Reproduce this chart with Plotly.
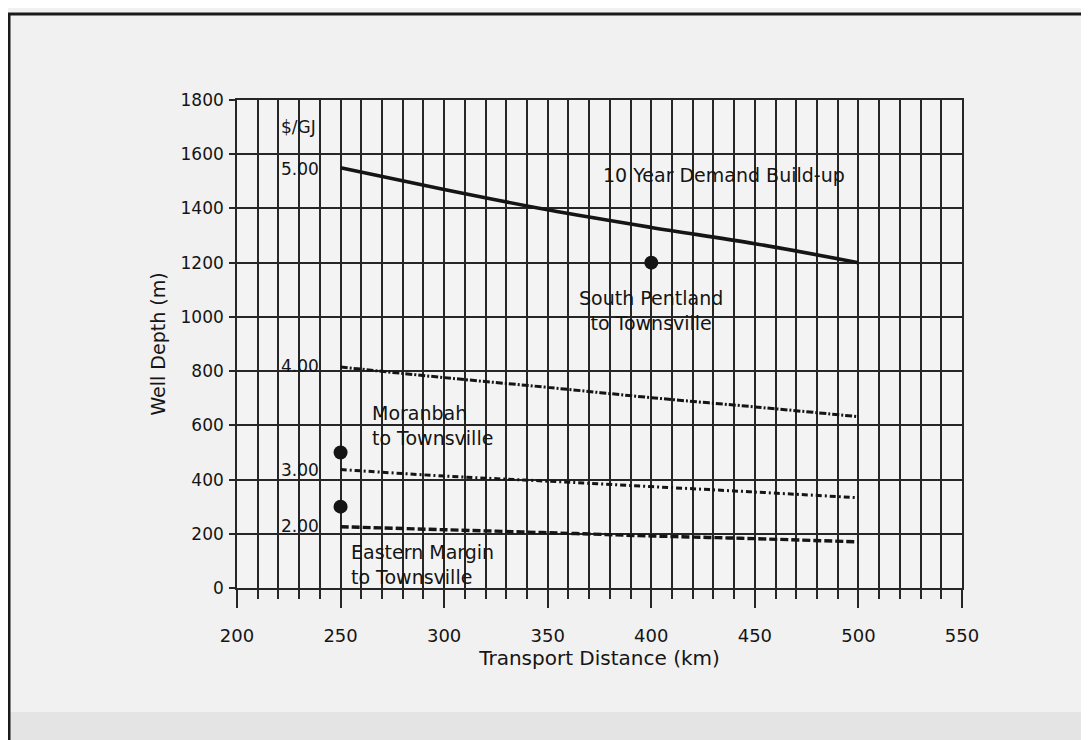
import plotly.graph_objects as go

# ---- data ----
distance_km = [250, 300, 350, 400, 450, 500]
depth_500 = [1550, 1470, 1395, 1330, 1270, 1200]   # $5.00/GJ
depth_400 = [815, 776, 740, 702, 668, 632]          # $4.00/GJ
depth_300 = [437, 413, 394, 374, 354, 333]          # $3.00/GJ
depth_200 = [226, 215, 204, 192, 182, 170]          # $2.00/GJ

site_x = [400, 250, 250]
site_y = [1200, 500, 300]

x_ticks = [200, 250, 300, 350, 400, 450, 500, 550]
y_ticks = [0, 200, 400, 600, 800, 1000, 1200, 1400, 1600, 1800]

FONT = "DejaVu Sans, Liberation Sans, Arial, sans-serif"
INK = "#151515"
GRID = "#262626"

# page offset (body margin of the html page)
OFF = 8
L, T, PW, PH = 237 - OFF, 100 - OFF, 725, 488
W, H = 1089 - OFF, 740 - OFF

fig = go.Figure()

fig.add_trace(go.Scatter(x=distance_km, y=depth_500, mode="lines",
                         line=dict(color=INK, width=3.6), line_shape="spline",
                         showlegend=False))
fig.add_trace(go.Scatter(x=distance_km, y=depth_400, mode="lines",
                         line=dict(color=INK, width=3, dash="7px,2px,2px,2px"),
                         line_shape="spline", showlegend=False))
fig.add_trace(go.Scatter(x=distance_km, y=depth_300, mode="lines",
                         line=dict(color=INK, width=3, dash="6px,3px,2px,3px"),
                         line_shape="spline", showlegend=False))
fig.add_trace(go.Scatter(x=distance_km, y=depth_200, mode="lines",
                         line=dict(color=INK, width=3.4, dash="8px,3px"),
                         line_shape="spline", showlegend=False))
fig.add_trace(go.Scatter(x=site_x, y=site_y, mode="markers",
                         marker=dict(color=INK, size=14), showlegend=False))

small_font = dict(family=FONT, size=17, color=INK)
ann_font = dict(family=FONT, size=19, color=INK)
price_labels = [
    dict(x=220.5, y=1700, text="$/GJ"),
    dict(x=220.5, y=1545, text="5.00"),
    dict(x=220.5, y=818, text="4.00"),
    dict(x=220.5, y=434, text="3.00"),
    dict(x=220.5, y=228, text="2.00"),
]
for a in price_labels:
    fig.add_annotation(xref="x", yref="y", showarrow=False, font=small_font,
                       xanchor="left", yanchor="middle", **a)

annotations = [
    dict(x=435, y=1523, text="10 Year Demand Build-up", xanchor="center"),
    dict(x=400, y=1025, text="South Pentland<br>to Townsville", xanchor="center"),
    dict(x=264, y=600, text="Moranbah<br>to Townsville", xanchor="left", align="left"),
    dict(x=254, y=85, text="Eastern Margin<br>to Townsville", xanchor="left", align="left"),
]
for a in annotations:
    fig.add_annotation(xref="x", yref="y", showarrow=False, font=ann_font,
                       yanchor="middle", **a)

# frame of the scanned page (page pixel -> paper coords)
def px(xp):
    return (xp - OFF - L) / float(PW)

def py(yp):
    return (T + PH - (yp - OFF)) / float(PH)

shapes = [
    dict(type="rect", xref="paper", yref="paper", x0=px(9), x1=px(1089),
         y0=py(740), y1=py(712), fillcolor="#e4e4e4", line=dict(width=0), layer="below"),
    dict(type="line", xref="paper", yref="paper", x0=px(8), x1=px(1089),
         y0=py(14), y1=py(14), line=dict(color="#1a1a1a", width=3)),
    dict(type="line", xref="paper", yref="paper", x0=px(9), x1=px(9),
         y0=py(14), y1=py(740), line=dict(color="#1a1a1a", width=3)),
]

fig.update_layout(
    width=W, height=H,
    margin=dict(l=L, r=W - L - PW, t=T, b=H - T - PH),
    paper_bgcolor="#f1f1f1", plot_bgcolor="#f3f3f3",
    font=dict(family=FONT, size=18, color=INK),
    shapes=shapes,
    xaxis=dict(
        range=[200, 550], tickvals=x_ticks, ticks="outside", ticklen=18,
        tickwidth=1.6, tickcolor=GRID, showgrid=True, gridcolor=GRID, gridwidth=1.6,
        showline=True, mirror=True, linecolor=GRID, linewidth=1.6, zeroline=False,
        minor=dict(dtick=10, ticks="outside", ticklen=9, tickcolor=GRID, tickwidth=1.6,
                   showgrid=True, gridcolor=GRID, gridwidth=1.6),
        ticklabelstandoff=13,
        tickfont=dict(family=FONT, size=18, color=INK),
        title=dict(text="Transport Distance (km)", font=dict(family=FONT, size=20, color=INK),
                   standoff=3),
    ),
    yaxis=dict(
        range=[0, 1800], tickvals=y_ticks, ticks="outside", ticklen=6,
        tickwidth=1.6, tickcolor=GRID, showgrid=True, gridcolor=GRID, gridwidth=1.9,
        showline=True, mirror=True, linecolor=GRID, linewidth=1.6, zeroline=False,
        ticklabelstandoff=2,
        tickfont=dict(family=FONT, size=17, color=INK),
        title=dict(text="Well Depth (m)", font=dict(family=FONT, size=19, color=INK),
                   standoff=10),
    ),
)

fig.write_html("out.html")
